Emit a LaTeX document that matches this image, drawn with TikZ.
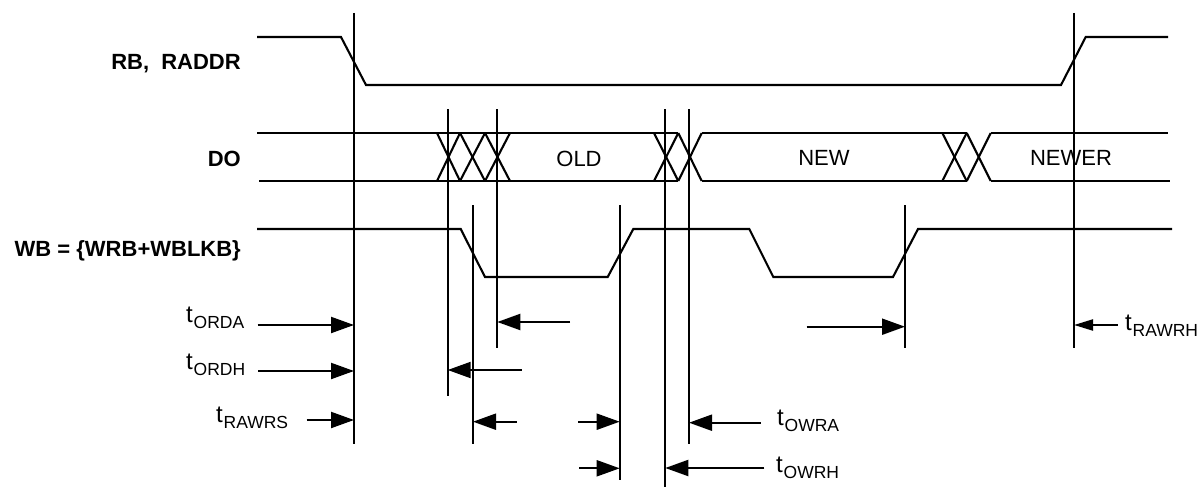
\documentclass[tikz,border=0pt]{standalone}
\usepackage{fontspec}
\setmainfont{Liberation Sans}
\usetikzlibrary{arrows.meta}
\newcommand{\tsub}[1]{{\fontsize{24}{26}\selectfont t}\kern0.8pt\raisebox{-6pt}{\fontsize{17.5}{18}\selectfont #1}}
\tikzset{
  sig/.style={line width=2.1pt, line join=miter},
  vline/.style={line width=2.1pt},
  tarrow/.style={line width=2.1pt, -{Triangle[length=23pt,width=16pt]}},
  tarrowsmall/.style={line width=2.1pt, -{Triangle[length=19pt,width=11pt]}},
  siglabel/.style={font=\fontsize{22}{26}\selectfont\bfseries, inner sep=0pt, anchor=base east},
  datalabel/.style={font=\fontsize{22}{26}\selectfont, inner sep=0pt, anchor=base},
  tlabel/.style={font=\fontsize{22}{26}\selectfont, inner sep=0pt, anchor=base west},
}
\begin{document}
\begin{tikzpicture}[x=1pt,y=-1pt]
\useasboundingbox (0,0) rectangle (1203,487);

% signal labels
\node[siglabel] (lrb) at (241,70) {RB,\ \ RADDR};
\node[siglabel] (ldo) at (241,166) {DO};
\node[siglabel] (lwb) at (241,256) {WB = \{WRB+WBLKB\}};

% RB, RADDR waveform
\draw[sig] (257,37) -- (341,37) -- (366,85) -- (1061,85) -- (1085.7,37) -- (1168,37);

% DO bus
\draw[sig] (257,133) -- (678.3,133);
\draw[sig] (701.7,133) -- (966.7,133);
\draw[sig] (990.7,133) -- (1168,133);
\draw[sig] (259,181) -- (678.3,181);
\draw[sig] (701.7,181) -- (966.7,181);
\draw[sig] (990.7,181) -- (1170,181);
\foreach \a/\b in {437/460, 460/485, 485/510, 654/678.3, 678.3/701.7, 942.3/966.7, 966.7/990.7}{
  \draw[sig] (\a,133) -- (\b,181);
  \draw[sig] (\a,181) -- (\b,133);
}
\node[datalabel] (old) at (579,166) {OLD};
\node[datalabel] (new) at (824,165) {NEW};
\node[datalabel] (newer) at (1071,165) {NEWER};

% WB waveform
\draw[sig] (257,229) -- (460.7,229) -- (485,277) -- (607.7,277) -- (633.3,229)
  -- (749.3,229) -- (773.3,277) -- (893,277) -- (918,229) -- (1172,229);

% vertical reference lines
\coordinate (v1t) at (354,13);    \coordinate (v1b) at (354,444);
\coordinate (v2t) at (447.7,109); \coordinate (v2b) at (447.7,396);
\coordinate (v3t) at (473,205);   \coordinate (v3b) at (473,444);
\coordinate (v4t) at (497.3,109); \coordinate (v4b) at (497.3,348);
\coordinate (v5t) at (619.7,205); \coordinate (v5b) at (619.7,480);
\coordinate (v6t) at (665.3,109); \coordinate (v6b) at (665.3,487);
\coordinate (v7t) at (689,109);   \coordinate (v7b) at (689,444);
\coordinate (v8t) at (905,205);   \coordinate (v8b) at (905,348);
\coordinate (v9t) at (1074,13);   \coordinate (v9b) at (1074,348);
\foreach \v in {1,...,9}{ \draw[vline] (v\v t) -- (v\v b); }

% arrow starts
\coordinate (a1) at (257.5,325);
\coordinate (a2) at (570,322);
\coordinate (a3) at (258,371);
\coordinate (a4) at (521.7,370);
\coordinate (a5) at (306.7,420);
\coordinate (a6) at (516.7,421.7);
\coordinate (a7) at (578.3,421.7);
\coordinate (a8) at (760.7,422.7);
\coordinate (a9) at (579,468.3);
\coordinate (a10) at (764.3,468);
\coordinate (a11) at (806.7,326.7);
\coordinate (a12) at (1117.7,325);

\draw[tarrow] (a1) -- (a1 -| v1t);
\draw[tarrow] (a2) -- (a2 -| v4t);
\draw[tarrow] (a3) -- (a3 -| v1t);
\draw[tarrow] (a4) -- (a4 -| v2t);
\draw[tarrow] (a5) -- (a5 -| v1t);
\draw[tarrow] (a6) -- (a6 -| v3t);
\draw[tarrow] (a7) -- (a7 -| v5t);
\draw[tarrow] (a8) -- (a8 -| v7t);
\draw[tarrow] (a9) -- (a9 -| v5t);
\draw[tarrow] (a10) -- (a10 -| v6t);
\draw[tarrow] (a11) -- (a11 -| v8t);
\draw[tarrowsmall] (a12) -- (a12 -| v9t);

% timing labels
\node[tlabel] (tORDA) at (186,322) {\tsub{ORDA}};
\node[tlabel] (tORDH) at (186,369) {\tsub{ORDH}};
\node[tlabel] (tRAWRS) at (216,422) {\tsub{RAWRS}};
\node[tlabel] (tOWRA) at (777,425) {\tsub{OWRA}};
\node[tlabel] (tOWRH) at (776,472.3) {\tsub{OWRH}};
\node[tlabel] (tRAWRH) at (1125,330.7) {\tsub{RAWRH}};
\end{tikzpicture}
\end{document}
